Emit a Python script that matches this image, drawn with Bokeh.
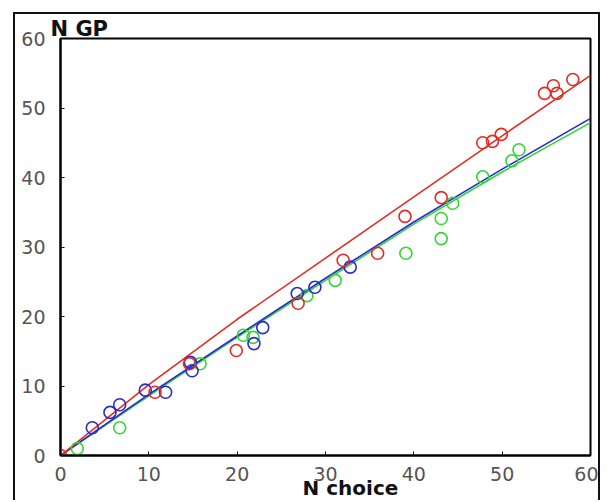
from bokeh.plotting import figure
from bokeh.models import Range1d, FixedTicker, Title
from bokeh.embed import file_html
from bokeh.resources import INLINE

# Data
red_x = [0, 10.7, 14.6, 19.9, 26.9, 32.0, 35.9, 39.0, 43.1, 47.8, 48.9, 49.9, 54.8, 55.8, 56.2, 58.0]
red_y = [0, 9.1, 13.2, 15.1, 21.9, 28.1, 29.1, 34.4, 37.1, 45.0, 45.2, 46.2, 52.1, 53.2, 52.1, 54.1]

blue_x = [3.6, 5.6, 6.7, 9.6, 11.9, 14.7, 14.9, 21.9, 22.9, 26.8, 28.8, 32.8]
blue_y = [4.0, 6.2, 7.3, 9.4, 9.1, 13.4, 12.2, 16.1, 18.4, 23.3, 24.2, 27.1]

green_x = [1.9, 6.7, 15.8, 20.7, 21.8, 27.9, 31.1, 39.1, 43.1, 43.1, 44.4, 47.8, 51.1, 51.9]
green_y = [1.0, 4.0, 13.2, 17.3, 17.0, 23.0, 25.2, 29.1, 31.2, 34.1, 36.3, 40.1, 42.4, 44.0]

fit_x = [0, 10, 20, 30, 40, 50, 60]
red_fit = [0, 10.2, 19.6, 28.4, 37.2, 46.0, 54.7]
blue_fit = [0, 8.8, 17.2, 25.5, 33.6, 41.2, 48.5]
green_fit = [0, 8.6, 17.0, 25.2, 33.3, 40.8, 47.9]

ticks = [0, 10, 20, 30, 40, 50, 60]
x_label = "N choice"
y_label = "N GP"

RED = "#e42c24"
BLUE = "#2a2ad0"
GREEN = "#33d633"

p = figure(width=587, height=488, output_backend="svg", toolbar_location=None,
           x_range=Range1d(0, 60), y_range=Range1d(0, 60),
           min_border_left=45, min_border_right=12, min_border_top=24, min_border_bottom=47,
           styles={"margin-left": "13px", "margin-top": "12px",
                   "border-left": "2px solid #111", "border-top": "2px solid #111",
                   "border-right": "2px solid #111"})

p.grid.visible = False
p.outline_line_color = "black"
p.outline_line_width = 2
p.background_fill_color = "white"
p.border_fill_color = "white"

for ax in (p.xaxis[0], p.yaxis[0]):
    ax.ticker = FixedTicker(ticks=ticks)
    ax.axis_line_width = 2
    ax.axis_line_color = "black"
    ax.major_tick_in = 4
    ax.major_tick_out = 0
    ax.major_tick_line_color = "black"
    ax.minor_tick_line_color = None
    ax.major_label_text_font = "DejaVu Sans"
    ax.major_label_text_font_size = "19px"
    ax.major_label_text_color = "#555555"

p.yaxis[0].major_label_standoff = 15
p.xaxis[0].major_label_standoff = 11

# fit lines
p.line(fit_x, green_fit, line_color=GREEN, line_width=1.6)
p.line(fit_x, blue_fit, line_color=BLUE, line_width=1.6)
p.line(fit_x, red_fit, line_color=RED, line_width=1.6)

# data markers
p.scatter(green_x, green_y, marker="circle", size=12, fill_color=None, line_color=GREEN, line_width=1.6)
p.scatter(blue_x, blue_y, marker="circle", size=12, fill_color=None, line_color=BLUE, line_width=1.6)
p.scatter(red_x, red_y, marker="circle", size=12, fill_color=None, line_color=RED, line_width=1.6)

p.add_layout(Title(text=y_label, align="left", offset=-10, standoff=-4,
                   text_font="DejaVu Sans", text_font_style="bold", text_font_size="21px",
                   text_color="#111111", vertical_align="bottom"), "above")
p.add_layout(Title(text=x_label, align="left", offset=242, standoff=-16,
                   text_font="DejaVu Sans", text_font_style="bold", text_font_size="20px",
                   text_color="#111111", vertical_align="top"), "below")

open("out.html", "w").write(file_html(p, INLINE))
